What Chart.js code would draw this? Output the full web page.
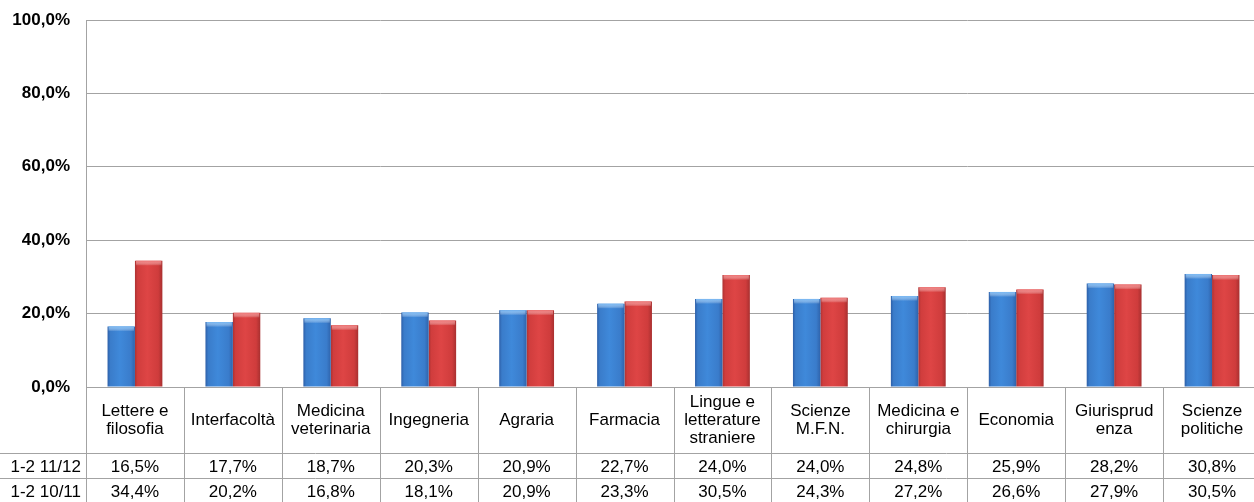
<!DOCTYPE html>
<html>
<head>
<meta charset="utf-8">
<script src="https://cdn.jsdelivr.net/npm/chart.js@4/dist/chart.umd.min.js"></script>
<style>
  html, body { margin: 0; padding: 0; background: #ffffff; overflow: hidden; width: 1254px; height: 502px; }
  #wrap { position: absolute; left: 0; top: 0; width: 1262px; height: 502px; }
</style>
</head>
<body>
<div id="wrap"><canvas id="c" width="1262" height="502"></canvas></div>
<script>
// ---- data ----
const categories = [
  ['Lettere e', 'filosofia'],
  ['Interfacoltà'],
  ['Medicina', 'veterinaria'],
  ['Ingegneria'],
  ['Agraria'],
  ['Farmacia'],
  ['Lingue e', 'letterature', 'straniere'],
  ['Scienze', 'M.F.N.'],
  ['Medicina e', 'chirurgia'],
  ['Economia'],
  ['Giurisprud', 'enza'],
  ['Scienze', 'politiche']
];
const seriesNames = ['1-2 11/12', '1-2 10/11'];
const values1112 = [16.5, 17.7, 18.7, 20.3, 20.9, 22.7, 24.0, 24.0, 24.8, 25.9, 28.2, 30.8];
const values1011 = [34.4, 20.2, 16.8, 18.1, 20.9, 23.3, 30.5, 24.3, 27.2, 26.6, 27.9, 30.5];
const yTicks = [0, 20, 40, 60, 80, 100];

// ---- styles ----
const GRID = '#a3a3a3';
const FONT = '"Liberation Sans", Arial, sans-serif';
const barStyles = [
  { solid: '#3d86d8', stops: [[0, '#2d5fa8'], [0.1, '#3a7cca'], [0.45, '#3f89da'], [0.85, '#3a7ccb'], [1, '#2f63ab']], cap: '#74b6f3' },
  { solid: '#db4343', stops: [[0, '#ad3232'], [0.1, '#d03d3d'], [0.45, '#de4545'], [0.85, '#cf3c3c'], [1, '#a83030']], cap: '#ee7373' }
];

function fmt(v) { return v.toFixed(1).replace('.', ',') + '%'; }

const barGradientPlugin = {
  id: 'barGradient',
  beforeDatasetsDraw(chart) {
    const ctx = chart.ctx;
    chart.data.datasets.forEach((ds, di) => {
      const meta = chart.getDatasetMeta(di);
      meta.data.forEach(el => {
        const x0 = el.x - el.width / 2, x1 = el.x + el.width / 2;
        const g = ctx.createLinearGradient(x0, 0, x1, 0);
        barStyles[di].stops.forEach(s => g.addColorStop(s[0], s[1]));
        el.options = Object.assign({}, el.options, { backgroundColor: g });
      });
    });
  },
  afterDatasetsDraw(chart) {
    const ctx = chart.ctx;
    ctx.save();
    chart.data.datasets.forEach((ds, di) => {
      const meta = chart.getDatasetMeta(di);
      meta.data.forEach(el => {
        const x0 = el.x - el.width / 2;
        const g = ctx.createLinearGradient(0, el.y, 0, el.y + 5);
        g.addColorStop(0, barStyles[di].cap);
        g.addColorStop(1, 'rgba(255,255,255,0)');
        ctx.fillStyle = g;
        ctx.fillRect(x0 + 1, el.y, el.width - 2, 5);
      });
    });
    ctx.restore();
  }
};

const dataTablePlugin = {
  id: 'dataTable',
  afterDraw(chart) {
    const ctx = chart.ctx;
    const area = chart.chartArea;
    const xs = chart.scales.x;
    const n = chart.data.labels.length;
    const cw = (area.right - area.left) / n;
    const top = area.bottom;
    const row1 = top + 66, row2 = row1 + 25, bottom = chart.height;
    ctx.save();
    ctx.strokeStyle = GRID;
    ctx.lineWidth = 1;
    ctx.beginPath();
    [row1, row2].forEach(y => { ctx.moveTo(0, y + 0.5); ctx.lineTo(chart.width, y + 0.5); });
    for (let i = 0; i <= n; i++) {
      const x = Math.round(area.left + i * cw) + 0.5;
      ctx.moveTo(x, top); ctx.lineTo(x, bottom);
    }
    ctx.stroke();

    ctx.fillStyle = '#000000';
    ctx.font = '17px ' + FONT;
    ctx.textAlign = 'center';
    ctx.textBaseline = 'middle';
    const lh = 18;
    chart.data.labels.forEach((lines, i) => {
      const cx = xs.getPixelForValue(i);
      const cy = (top + row1) / 2;
      const y0 = cy - (lines.length - 1) * lh / 2;
      lines.forEach((t, k) => ctx.fillText(t, cx, y0 + k * lh));
    });
    const rows = [row1 + 14, row2 + 14];
    chart.data.datasets.forEach((ds, di) => {
      ds.data.forEach((v, i) => ctx.fillText(fmt(v), xs.getPixelForValue(i), rows[di]));
    });
    ctx.textAlign = 'right';
    chart.data.datasets.forEach((ds, di) => ctx.fillText(ds.label, area.left - 5, rows[di]));
    ctx.restore();
  }
};

new Chart(document.getElementById('c'), {
  type: 'bar',
  data: {
    labels: categories,
    datasets: [
      { label: seriesNames[0], data: values1112, backgroundColor: () => barStyles[0].solid, borderWidth: 0 },
      { label: seriesNames[1], data: values1011, backgroundColor: () => barStyles[1].solid, borderWidth: 0 }
    ]
  },
  options: {
    responsive: false,
    animation: false,
    devicePixelRatio: 1,
    layout: { padding: { top: 20, left: 0, right: 1, bottom: 0 } },
    categoryPercentage: 0.56,
    barPercentage: 1.0,
    plugins: { legend: { display: false }, tooltip: { enabled: false } },
    scales: {
      x: {
        ticks: { display: false },
        grid: { display: false },
        border: { display: true, color: GRID },
        afterFit(s) { s.height = 115; }
      },
      y: {
        min: 0, max: 100,
        afterBuildTicks(s) { s.ticks = yTicks.map(v => ({ value: v })); },
        ticks: {
          callback: v => fmt(v),
          color: '#000000',
          font: { family: FONT, size: 17, weight: 'bold' },
          padding: 16
        },
        grid: { color: GRID, drawTicks: false, tickLength: 0 },
        border: { display: true, color: GRID },
        afterFit(s) { s.width = 86; s.paddingTop = 0; s.paddingBottom = 0; }
      }
    }
  },
  plugins: [barGradientPlugin, dataTablePlugin]
});
</script>
</body>
</html>
